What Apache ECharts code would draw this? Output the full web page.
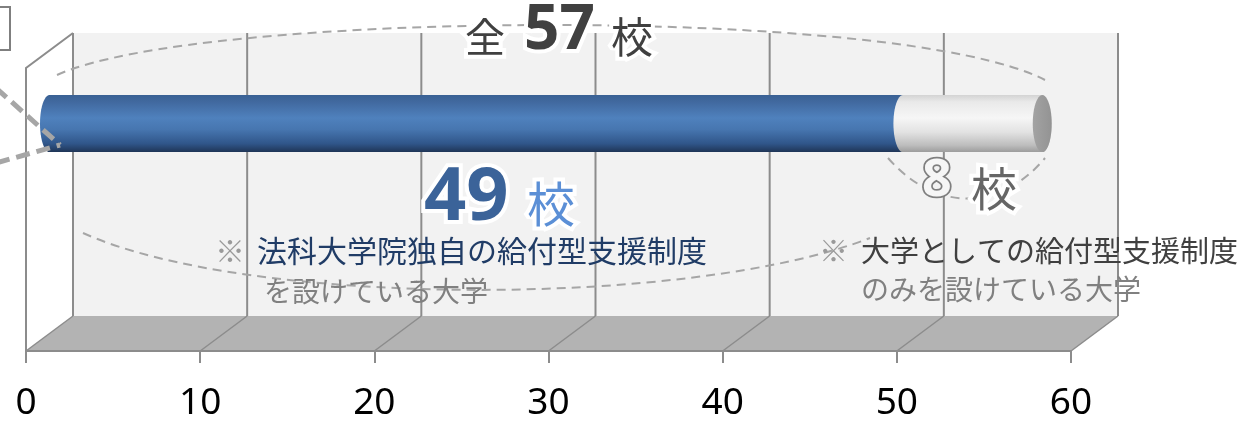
<!DOCTYPE html>
<html><head><meta charset="utf-8">
<script src="https://cdn.jsdelivr.net/npm/echarts@6/dist/echarts.min.js"></script>
<style>html,body{margin:0;padding:0;background:#fff}#c{width:1252px;height:422px}</style>
</head><body><div id="c"></div>
<script>
// ---- data ----
const segmentNames = ['法科大学院独自の給付型支援制度を設けている大学', '大学としての給付型支援制度のみを設けている大学'];
const schoolCounts = [49, 8];
const xTickValues = [0, 10, 20, 30, 40, 50, 60];
const unitLabel = '校';

// ---- derived ----
const total = schoolCounts.reduce((a, b) => a + b, 0);
const segments = [];
let acc = 0;
schoolCounts.forEach((v, i) => { segments.push([acc, acc + v, i]); acc += v; });
const xMin = xTickValues[0], xMax = xTickValues[xTickValues.length - 1];

// ---- styling constants ----
const DX = 47, DY = -35, R = 28.5, RX = 9.5, BAR_LEVEL = 0.66;
const JP = '"Noto Sans CJK JP", "Noto Sans", sans-serif';
const LAT = '"Noto Sans", "Open Sans", sans-serif';
const LINE = '#8c8c8c';

function ellPts(xc, cy, a0, a1, n) {
  const pts = [];
  for (let k = 0; k <= n; k++) {
    const t = a0 + (a1 - a0) * k / n;
    pts.push([xc + RX * Math.cos(t), cy - R * Math.sin(t)]);
  }
  return pts;
}
const G = echarts.graphic.LinearGradient;
const grads = [
  new G(0, 0, 0, 1, [
    { offset: 0, color: '#3a6194' }, { offset: 0.12, color: '#41699f' },
    { offset: 0.4, color: '#4f81bd' }, { offset: 0.6, color: '#4776b0' },
    { offset: 0.85, color: '#30568a' }, { offset: 1, color: '#1f3556' }]),
  new G(0, 0, 0, 1, [
    { offset: 0, color: '#d4d4d4' }, { offset: 0.12, color: '#e9e9e9' },
    { offset: 0.4, color: '#f6f6f6' }, { offset: 0.65, color: '#e2e2e2' },
    { offset: 0.88, color: '#bdbdbd' }, { offset: 1, color: '#9c9c9c' }])
];
const capGrad = new G(0, 0, 1, 0, [{ offset: 0, color: '#a3a3a3' }, { offset: 1, color: '#939393' }]);

function txt(text, x, y, font, fill, extra) {
  return Object.assign({
    type: 'text', x: x, y: y, z: 20, silent: true,
    style: Object.assign({ text: text, font: font, fill: fill, verticalAlign: 'middle', textAlign: 'left' }, extra || {})
  });
}
const halo = { stroke: '#ffffff', lineWidth: 8 };

const chart = echarts.init(document.getElementById('c'), null, { renderer: 'canvas', width: 1252, height: 422 });
chart.setOption({
  animation: false,
  backgroundColor: '#ffffff',
  grid: { left: 26, right: 181, top: 33, bottom: 71 },
  xAxis: {
    type: 'value', min: xMin, max: xMax, interval: 10, z: 4,
    axisLine: { show: true, lineStyle: { color: LINE, width: 2 } },
    axisTick: { show: true, length: 12, lineStyle: { color: LINE, width: 2 } },
    axisLabel: { show: true, fontSize: 37, fontFamily: LAT, color: '#000', margin: 34,
      showMinLabel: true, showMaxLabel: true },
    splitLine: { show: false }
  },
  yAxis: { type: 'value', min: 0, max: 1, show: false },
  series: [
    {
      type: 'custom', name: 'walls', z: 1, silent: true, clip: false,
      data: xTickValues.map(v => [v, 0]),
      renderItem: function (params, api) {
        const v = api.value(0);
        const p = api.coord([v, 0]);
        const topY = api.coord([v, 1])[1];
        const children = [];
        if (params.dataIndex === 0) {
          const f0 = api.coord([xMin, 0]), f1 = api.coord([xMax, 0]);
          children.push({ type: 'rect', shape: { x: f0[0] + DX, y: topY, width: f1[0] - f0[0], height: f0[1] + DY - topY }, style: { fill: '#f2f2f2' } });
          children.push({ type: 'polygon', shape: { points: [f0, f1, [f1[0] + DX, f1[1] + DY], [f0[0] + DX, f0[1] + DY]] }, style: { fill: '#b3b3b3' } });
          children.push({ type: 'polygon', shape: { points: [[f0[0], topY - DY], [f0[0] + DX, topY], [f0[0] + DX, f0[1] + DY], f0] }, style: { fill: '#ffffff' } });
          children.push({ type: 'polyline', shape: { points: [f0, [f0[0], topY - DY], [f0[0] + DX, topY]] }, style: { stroke: LINE, lineWidth: 2, fill: null } });
        }
        children.push({ type: 'line', shape: { x1: p[0] + DX, y1: topY, x2: p[0] + DX, y2: p[1] + DY }, style: { stroke: LINE, lineWidth: 2 } });
        children.push({ type: 'line', shape: { x1: p[0], y1: p[1], x2: p[0] + DX, y2: p[1] + DY }, style: { stroke: LINE, lineWidth: 1.5 } });
        return { type: 'group', children: children };
      }
    },
    {
      type: 'custom', name: 'schools', z: 3, silent: true, clip: false,
      data: segments,
      renderItem: function (params, api) {
        const s = api.coord([api.value(0), BAR_LEVEL]);
        const e = api.coord([api.value(1), BAR_LEVEL]);
        const idx = api.value(2);
        const x0 = s[0] + DX / 2, x1 = e[0] + DX / 2, cy = s[1] + DY / 2;
        const body = ellPts(x0, cy, Math.PI / 2, 3 * Math.PI / 2, 24).concat(ellPts(x1, cy, -Math.PI / 2, Math.PI / 2, 24));
        const children = [{ type: 'polygon', shape: { points: body }, style: { fill: grads[idx] } }];
        if (idx === segments.length - 1) {
          children.push({ type: 'polygon', shape: { points: ellPts(x1, cy, 0, 2 * Math.PI, 48) }, style: { fill: capGrad } });
        }
        return { type: 'group', children: children };
      }
    }
  ],
  graphic: { elements: [
    // dashed ellipses
    { type: 'bezierCurve', z: 2, silent: true, shape: { x1: 57, y1: 75, cpx1: 200, cpy1: 10, cpx2: 900, cpy2: 5, x2: 1045, y2: 80 },
      style: { stroke: '#a6a6a6', lineWidth: 2, lineDash: [9, 6], fill: null } },
    { type: 'bezierCurve', z: 2, silent: true, shape: { x1: 83, y1: 233, cpx1: 250, cpy1: 308, cpx2: 690, cpy2: 308, x2: 870, y2: 238 },
      style: { stroke: '#a6a6a6', lineWidth: 2, lineDash: [9, 6], fill: null } },
    { type: 'bezierCurve', z: 2, silent: true, shape: { x1: 888, y1: 158, cpx1: 935, cpy1: 212, cpx2: 1000, cpy2: 212, x2: 1045, y2: 158 },
      style: { stroke: '#a6a6a6', lineWidth: 2, lineDash: [9, 6], fill: null } },
    // left callout
    { type: 'rect', z: 10, silent: true, shape: { x: -3, y: 7, width: 13, height: 43 }, style: { fill: '#fff', stroke: '#7f7f7f', lineWidth: 2 } },
    { type: 'line', z: 10, silent: true, shape: { x1: -4, y1: 88, x2: 60, y2: 145 }, style: { stroke: '#a6a6a6', lineWidth: 5, lineDash: [14, 7] } },
    { type: 'line', z: 10, silent: true, shape: { x1: -4, y1: 163, x2: 60, y2: 145 }, style: { stroke: '#a6a6a6', lineWidth: 5, lineDash: [14, 7] } },
    // totals
    txt('全', 465, 37, '40px ' + JP, '#404040', halo),
    txt(String(total), 524, 31, 'bold 62px ' + LAT, '#404040', halo),
    txt(unitLabel, 611, 37, '42px ' + JP, '#404040', halo),
    txt(String(schoolCounts[0]), 424, 199, 'bold 74px ' + LAT, '#3b6399', halo),
    txt(unitLabel, 527, 204, '48px ' + JP, '#5b8fd6', halo),
    txt(String(schoolCounts[1]), 922, 181, 'bold 52px ' + LAT, '#f6f6f6', { stroke: '#7f7f7f', lineWidth: 3.5, shadowColor: '#ffffff', shadowBlur: 6 }),
    txt(unitLabel, 971, 189, '46px ' + JP, '#666666', halo),
    // notes
    txt('※', 215, 251, '30px ' + JP, '#9a9a9a'),
    txt('法科大学院独自の給付型支援制度', 257, 251, '30px ' + JP, '#203c66'),
    txt('を設けている大学', 264, 291, '28px ' + JP, '#808080'),
    txt('※', 819, 251, '29px ' + JP, '#9a9a9a'),
    txt('大学としての給付型支援制度', 861, 251, '29px ' + JP, '#404040'),
    txt('のみを設けている大学', 861, 289, '28px ' + JP, '#808080')
  ] }
});
</script>
</body></html>
